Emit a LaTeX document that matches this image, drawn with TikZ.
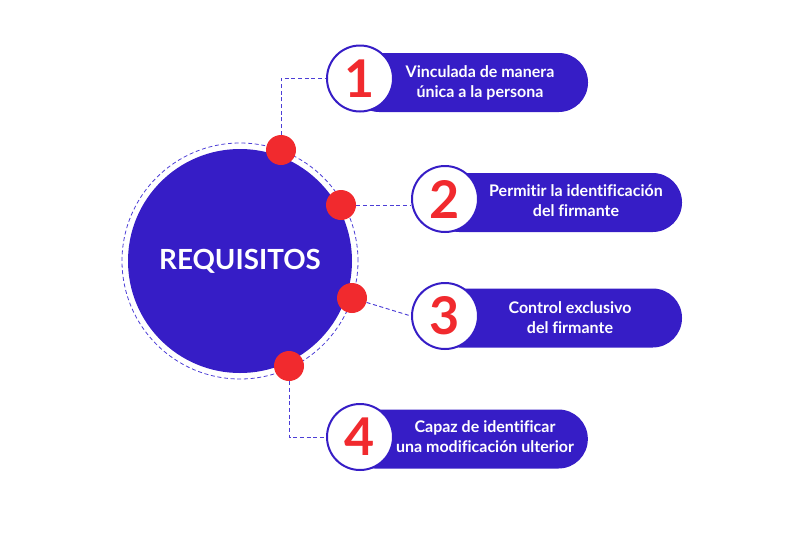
\documentclass[tikz,border=0pt]{standalone}
\usepackage{fontspec}
\setmainfont{Lato}[Ligatures=NoCommon]
\definecolor{ReqBlue}{RGB}{54,29,198}
\definecolor{ReqRed}{RGB}{241,42,46}
\definecolor{DashBlue}{RGB}{76,62,214}
\tikzset{
  reddot/.style={circle, fill=ReqRed, minimum size=22.5pt, inner sep=0pt},
  numbox/.style={circle, draw=ReqBlue, line width=1.5pt, fill=white, minimum size=49.5pt, inner sep=0pt, text=ReqRed, font=\bfseries\fontsize{39}{39}\selectfont},
  pill/.style={rectangle, fill=ReqBlue, rounded corners=22pt, minimum height=44.25pt, inner sep=0pt},
  pilltext/.style={text=white, font=\bfseries\fontsize{12}{15}\selectfont, align=center},
  link/.style={DashBlue, densely dashed, line width=0.7pt}
}

\begin{document}
\begin{tikzpicture}[x=0.75pt, y=-0.75pt]
\useasboundingbox (0,0) rectangle (800,533);
% Center
\node[circle, draw=DashBlue, densely dashed, line width=0.6pt, minimum size=177pt] (ring) at (240,261) {};
\node[circle, fill=ReqBlue, minimum size=168pt, text=white, font=\bfseries\fontsize{20.8}{21}\selectfont] (req) at (240,261) {REQUISITOS};

% Pills
\node[pill, minimum width=178.5pt] (p1) at (469,82.5) {};
\node[pill, minimum width=189pt] (p2) at (556,202.5) {};
\node[pill, minimum width=189pt] (p3) at (556,318) {};
\node[pill, minimum width=182pt] (p4) at (466.5,439) {};

\node[pilltext] (t1) at (480,83) {Vinculada de manera\\única a la persona};
\node[pilltext] (t2) at (576,201) {Permitir la identificación\\del firmante};
\node[pilltext] (t3) at (570,318) {Control exclusivo\\del firmante};
\node[pilltext] (t4) at (485,437) {Capaz de identificar\\una modificación ulterior};

% Numbers
\node[numbox] (n1) at (360,78.5) {1};
\node[numbox] (n2) at (445,199) {2};
\node[numbox] (n3) at (445,316) {3};
\node[numbox] (n4) at (360,437) {4};

% Dots
\node[reddot] (d1) at (281,150) {};
\node[reddot] (d2) at (341,205) {};
\node[reddot] (d3) at (352,298) {};
\node[reddot] (d4) at (289,366) {};

% Links
\draw[link] (d1) |- (n1);
\draw[link] (d2) -- (d2 -| n2.west);
\draw[link] (d3) -- (n3.west);
\draw[link] (d4) |- (n4);
\end{tikzpicture}
\end{document}
